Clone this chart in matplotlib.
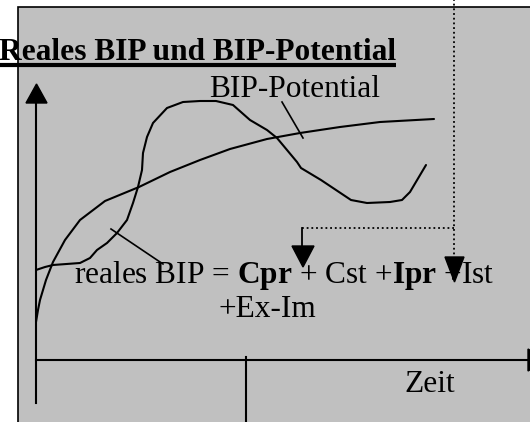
import matplotlib
matplotlib.use("Agg")
import matplotlib.pyplot as plt
from matplotlib.patches import Rectangle, Polygon

plt.rcParams['font.family'] = ['Liberation Serif', 'DejaVu Serif']
plt.rcParams['mathtext.fontset'] = 'custom'
plt.rcParams['mathtext.rm'] = 'Liberation Serif'
plt.rcParams['mathtext.bf'] = 'Liberation Serif:bold'

# sketch coordinates (pixels, y down)
potential_x = [36, 38, 40, 46, 53, 65, 80, 105, 139, 170, 200, 230, 267, 300, 340, 380, 434]
potential_y = [322, 310, 300, 280, 262, 240, 220, 201, 187, 172, 160, 149, 139, 133, 127, 122, 119]

real_x = [36, 45, 53, 80, 90, 97, 107, 117, 127, 133, 138, 142, 143, 147, 153, 167, 183,
          200, 216, 233, 250, 267, 277, 287, 297, 301, 321, 351, 367, 390, 402, 410, 426]
real_y = [270, 267, 265, 263, 258, 250, 243, 233, 220, 203, 187, 170, 153, 137, 123, 108, 102,
          101, 101, 105, 120, 130, 138, 150, 162, 168, 180, 200, 203, 202, 200, 192, 165]

title = "Reales BIP und BIP-Potential"
label_potential = "BIP-Potential"
label_formula = r"reales BIP = $\mathbf{Cpr}$ + Cst +$\mathbf{Ipr}$ +Ist"
label_formula2 = "+Ex-Im"
label_time = "Zeit"

fs = 22.6

fig = plt.figure(figsize=(5.3, 4.22), dpi=100)
ax = fig.add_axes([0, 0, 1, 1])
ax.set_xlim(0, 530)
ax.set_ylim(422, 0)
ax.axis('off')

# grey panel
ax.add_patch(Rectangle((18, 7), 530, 430, facecolor='#c0c0c0', edgecolor='black', lw=1.2))

# axes of the sketch
ax.plot([36, 36], [403, 100], color='black', lw=1.5)
ax.add_patch(Polygon([[26, 103], [47, 103], [36.5, 84]], closed=True, color='black'))
ax.plot([36, 535], [360, 360], color='black', lw=1.5)
ax.add_patch(Polygon([[528, 349], [528, 371], [548, 360]], closed=True, color='black'))
ax.plot([246, 246], [357, 425], color='black', lw=1.5)

# curves
ax.plot(potential_x, potential_y, color='black', lw=1.5, solid_capstyle='round')
ax.plot(real_x, real_y, color='black', lw=1.5, solid_capstyle='round', solid_joinstyle='round')

# leader lines
ax.plot([282, 303], [102, 138], color='black', lw=1.2)
ax.plot([111, 163], [229, 264], color='black', lw=1.2)

# dotted connector and arrows
ax.plot([454, 454], [-2, 258], color='black', lw=1.3, ls=(0, (1, 1.6)))
ax.plot([302, 454], [228, 228], color='black', lw=1.3, ls=(0, (1, 1.6)))
ax.plot([302, 302], [228, 247], color='black', lw=1.3)
ax.add_patch(Polygon([[292, 246], [314, 246], [303, 267]], closed=True, color='black'))
ax.add_patch(Polygon([[445, 257], [464, 257], [454.5, 282]], closed=True, color='black'))

# texts
t = ax.text(-1, 60, title, fontsize=fs, fontweight='bold', va='baseline', ha='left')
ax.text(209, 97, label_potential, fontsize=fs, va='baseline', ha='left')
ax.text(74, 283, label_formula, fontsize=fs, va='baseline', ha='left')
ax.text(219, 317, label_formula2, fontsize=fs, va='baseline', ha='left')
ax.text(404, 392, label_time, fontsize=fs, va='baseline', ha='left')

# underline under the title
fig.canvas.draw()
bb = t.get_window_extent(fig.canvas.get_renderer()).transformed(ax.transData.inverted())
ax.plot([0, bb.x1], [65, 65], color='black', lw=3, solid_capstyle='butt')

fig.savefig("out.png", dpi=100)
